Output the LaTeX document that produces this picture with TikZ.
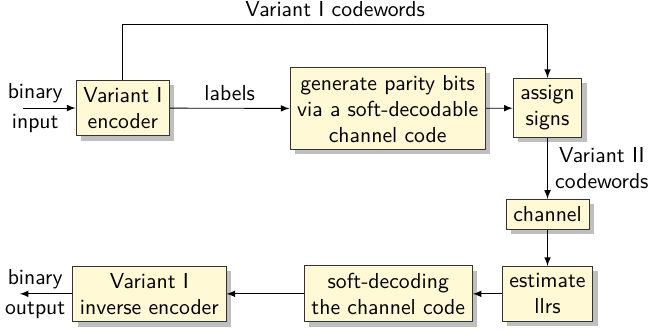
\documentclass[tikz,border=0pt]{standalone}
\usepackage{amsmath}
\usepackage{tikz}
\usetikzlibrary{shadows}
\renewcommand{\familydefault}{\sfdefault}
\definecolor{boxfill}{RGB}{255,249,214}

\begin{document}
\begin{tikzpicture}[
  blk/.style={draw=black!80,fill=boxfill,align=center,drop shadow},
  txt/.style={align=center}]
\useasboundingbox (0,0) rectangle (10.53,-5.36);

\node[blk] (enc) at (1.99,-1.75) {Variant I\\encoder};
\node[blk] (gen) at (6.28,-1.76) {generate parity bits\\via a soft-decodable\\channel code};
\node[blk] (sgn) at (8.87,-1.75) {assign\\signs};
\node[blk] (chan) at (8.87,-3.47) {channel};
\node[blk] (est) at (8.87,-4.76) {estimate\\llrs};
\node[blk] (dec) at (6.29,-4.76) {soft-decoding\\the channel code};
\node[blk] (inv) at (2.42,-4.76) {Variant I\\inverse encoder};

\node[txt] (inlbl) at (0.57,-1.75) {binary\\[2pt]input};
\node[txt] (outlbl) at (0.57,-4.76) {binary\\[2pt]output};
\coordinate (in) at (0.37,-1.75);
\coordinate (out) at (0.32,-4.76);
\coordinate (up1) at (1.99,-0.39);
\coordinate (up2) at (8.87,-0.39);

\draw[-latex] (in) -- (enc);
\draw[-latex] (enc) -- node[above] {labels} (gen);
\draw[-latex] (gen) -- (sgn);
\draw[-latex] (enc) -- (up1) -- node[above] {Variant I codewords} (up2) -- (sgn);
\draw[-latex] (sgn) -- node[right,txt] {Variant II\\codewords} (chan);
\draw[-latex] (chan) -- (est);
\draw[-latex] (est) -- (dec);
\draw[-latex] (dec) -- (inv);
\draw[-latex] (inv) -- (out);
\end{tikzpicture}
\end{document}
